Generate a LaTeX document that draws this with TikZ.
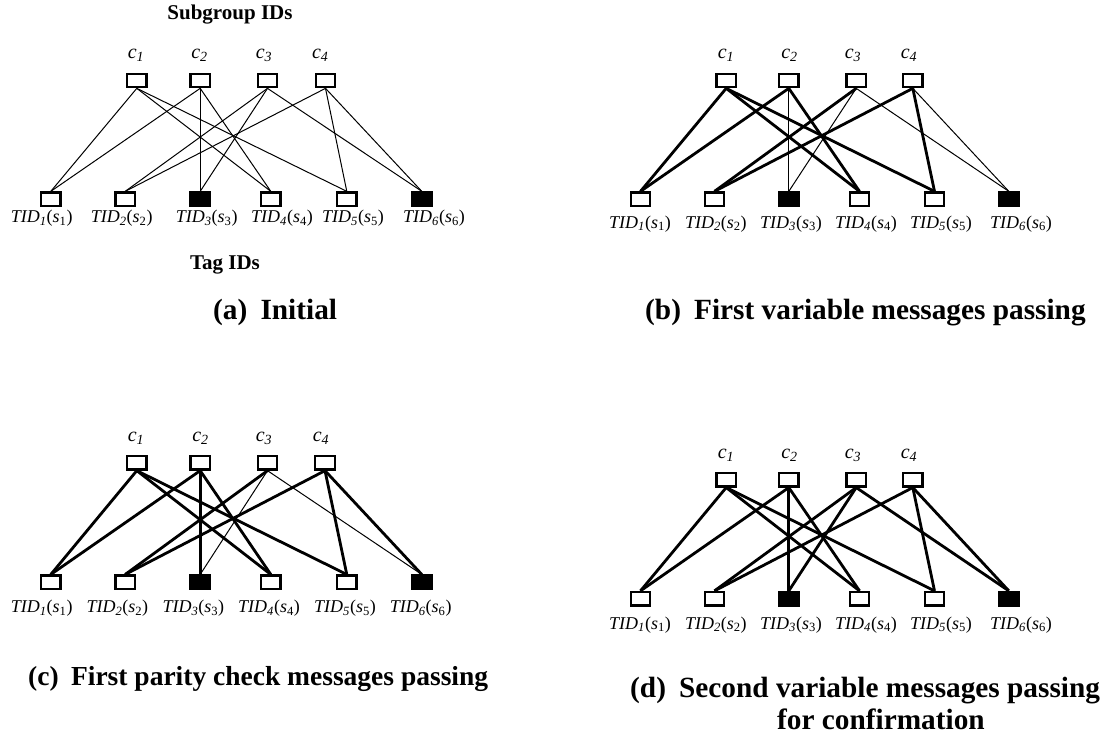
\documentclass[tikz,border=0pt]{standalone}
\usepackage{fontspec}
\setmainfont{Liberation Serif}
\usetikzlibrary{backgrounds}

\tikzset{
  idbox/.style={draw, line width=2.2pt, minimum width=19.5pt, minimum height=13.5pt,
                inner sep=0pt, fill=white},
  hitbox/.style={idbox, fill=black},
  thinlink/.style={line width=1pt},
  thicklink/.style={line width=2.8pt},
  caption/.style={font=\fontsize{29.3}{33}\selectfont\bfseries, inner sep=0pt, anchor=base west},
  smallcaption/.style={caption, font=\fontsize{27.5}{31}\selectfont\bfseries},
  headlabel/.style={font=\fontsize{21}{24}\selectfont\bfseries, inner sep=0pt},
  clabel/.style={font=\fontsize{20}{22}\selectfont, inner sep=0pt},
  tlabel/.style={font=\fontsize{18}{20}\selectfont, inner sep=0pt},
}
\newcommand{\tidtext}[1]{\textit{TID}\textsubscript{\textit{#1}}(\textit{s}\textsubscript{#1})}
\newcommand{\cidtext}[1]{\textit{c}\textsubscript{\textit{#1}}}

\begin{document}
\begin{tikzpicture}[x=1pt, y=-1pt]
\useasboundingbox (0,0) rectangle (1107,742);

% ---------- (a) Initial ----------
\node[headlabel] (subgrp) at (230,15) {Subgroup IDs};
\node[headlabel] (tagids) at (225,265) {Tag IDs};
\foreach \i/\x in {1/136.8,2/200.2,3/267.5,4/325.5}
  \node[idbox] (a-c\i) at (\x,80.5) {};
\foreach \i/\x in {1/136,2/199.5,3/264,4/320.3}
  \node[clabel] (a-cl\i) at (\x,55) {\cidtext{\i}};
\foreach \i/\x in {1/50.8,2/125.2,4/270.8,5/346.8}
  \node[idbox] (a-t\i) at (\x,199.2) {};
\foreach \i/\x in {3/200.2,6/421.8}
  \node[hitbox] (a-t\i) at (\x,199.2) {};
\foreach \i/\x in {1/41.7,2/121.7,3/206.7,4/282,5/353,6/434}
  \node[tlabel] (a-tl\i) at (\x,218.3) {\tidtext{\i}};
\begin{scope}[on background layer]
\foreach \c/\t/\w in {1/1/thinlink,1/4/thinlink,1/5/thinlink,
                      2/1/thinlink,2/3/thinlink,2/4/thinlink,
                      3/2/thinlink,3/3/thinlink,3/6/thinlink,
                      4/2/thinlink,4/5/thinlink,4/6/thinlink}
  \draw[\w] (a-c\c.south) -- (a-t\t.north);
\end{scope}
\node[caption] (capa) at (213,319.5) {(a)\hspace{0.45em}Initial};

% ---------- (b) First variable messages passing ----------
\foreach \i/\x in {1/726.2,2/788.8,3/856.2,4/912.8}
  \node[idbox] (b-c\i) at (\x,80.5) {};
\foreach \i/\x in {1/726,2/789.5,3/853,4/909}
  \node[clabel] (b-cl\i) at (\x,55) {\cidtext{\i}};
\foreach \i/\x in {1/640.5,2/714.5,4/859.5,5/934.5}
  \node[idbox] (b-t\i) at (\x,199.2) {};
\foreach \i/\x in {3/788.8,6/1008.8}
  \node[hitbox] (b-t\i) at (\x,199.2) {};
\foreach \i/\x in {1/640,2/715.8,3/791,4/866,5/941,6/1021}
  \node[tlabel] (b-tl\i) at (\x,224) {\tidtext{\i}};
\begin{scope}[on background layer]
\foreach \c/\t/\w in {1/1/thicklink,1/4/thicklink,1/5/thicklink,
                      2/1/thicklink,2/3/thinlink,2/4/thicklink,
                      3/2/thicklink,3/3/thinlink,3/6/thinlink,
                      4/2/thicklink,4/5/thicklink,4/6/thinlink}
  \draw[\w] (b-c\c.south) -- (b-t\t.north);
\end{scope}
\node[caption] (capb) at (645,319.5) {(b)\hspace{0.45em}First variable messages passing};

% ---------- (c) First parity check messages passing ----------
\foreach \i/\x in {1/136.8,2/200.2,3/267.5,4/325}
  \node[idbox] (c-c\i) at (\x,462.8) {};
\foreach \i/\x in {1/136,2/200.5,3/264,4/321}
  \node[clabel] (c-cl\i) at (\x,438.3) {\cidtext{\i}};
\foreach \i/\x in {1/50.8,2/125.2,4/270.8,5/346.8}
  \node[idbox] (c-t\i) at (\x,582.3) {};
\foreach \i/\x in {3/200.2,6/421.8}
  \node[hitbox] (c-t\i) at (\x,582.3) {};
\foreach \i/\x in {1/41.7,2/117.3,3/193.3,4/269,5/345,6/420.7}
  \node[tlabel] (c-tl\i) at (\x,608.3) {\tidtext{\i}};
\begin{scope}[on background layer]
\foreach \c/\t/\w in {1/1/thicklink,1/4/thicklink,1/5/thicklink,
                      2/1/thicklink,2/3/thicklink,2/4/thicklink,
                      3/2/thicklink,3/3/thinlink,3/6/thinlink,
                      4/2/thicklink,4/5/thicklink,4/6/thicklink}
  \draw[\w] (c-c\c.south) -- (c-t\t.north);
\end{scope}
\node[smallcaption] (capc) at (28,685) {(c)\hspace{0.45em}First parity check messages passing};

% ---------- (d) Second variable messages passing for confirmation ----------
\foreach \i/\x in {1/726.2,2/788.8,3/856.2,4/912.8}
  \node[idbox] (d-c\i) at (\x,479.7) {};
\foreach \i/\x in {1/726,2/789.5,3/853,4/909}
  \node[clabel] (d-cl\i) at (\x,455) {\cidtext{\i}};
\foreach \i/\x in {1/640.5,2/714.5,4/859.5,5/934.5}
  \node[idbox] (d-t\i) at (\x,598.7) {};
\foreach \i/\x in {3/788.8,6/1008.8}
  \node[hitbox] (d-t\i) at (\x,598.7) {};
\foreach \i/\x in {1/640,2/715.8,3/791,4/866,5/941,6/1021}
  \node[tlabel] (d-tl\i) at (\x,625) {\tidtext{\i}};
\begin{scope}[on background layer]
\foreach \c/\t/\w in {1/1/thicklink,1/4/thicklink,1/5/thicklink,
                      2/1/thicklink,2/3/thicklink,2/4/thicklink,
                      3/2/thicklink,3/3/thicklink,3/6/thicklink,
                      4/2/thicklink,4/5/thicklink,4/6/thicklink}
  \draw[\w] (d-c\c.south) -- (d-t\t.north);
\end{scope}
\node[caption] (capd1) at (630,697) {(d)\hspace{0.45em}Second variable messages passing};
\node[caption] (capd2) at (777,729) {for confirmation};

\end{tikzpicture}
\end{document}
